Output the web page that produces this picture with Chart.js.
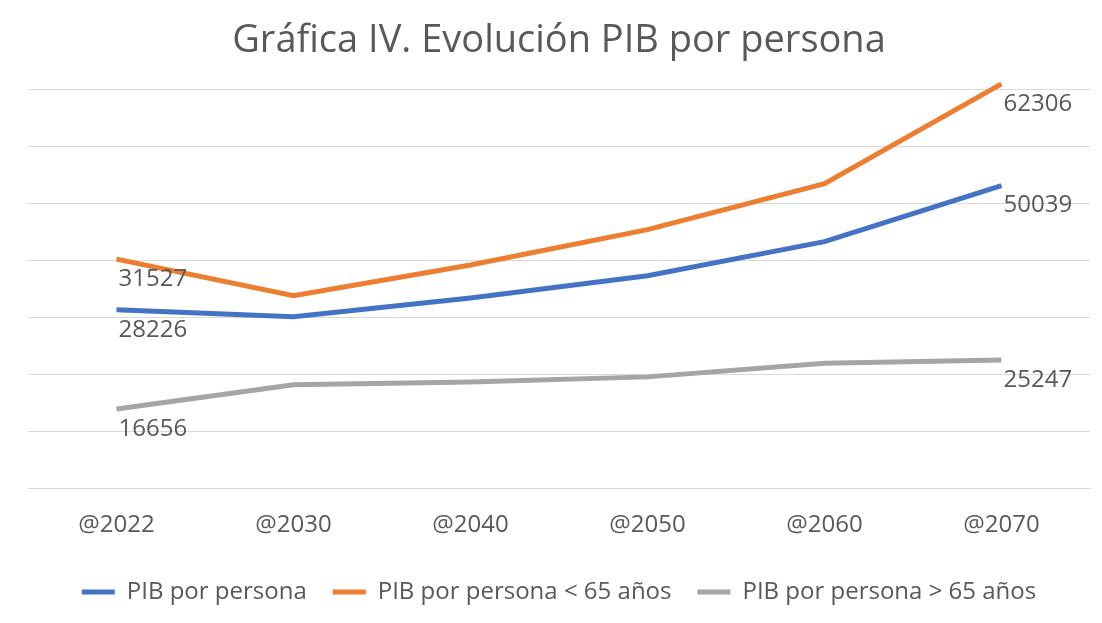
<!DOCTYPE html>
<html>
<head>
<meta charset="utf-8">
<script src="https://cdn.jsdelivr.net/npm/chart.js@4/dist/chart.umd.min.js"></script>
<style>
  html, body { margin: 0; padding: 0; background: #fff; }
  #wrap { width: 1102px; height: 623px; }
</style>
</head>
<body>
<div id="wrap"><canvas id="pibChart" width="1102" height="623"></canvas></div>
<script>
// Categories and series
const years = ['@2022', '@2030', '@2040', '@2050', '@2060', '@2070'];
const pibPersona = [28226, 27000, 30300, 34200, 40200, 50039];
const pibMenor65 = [31527, 25100, 30500, 36700, 44800, 62306];
const pibMayor65 = [16656, 20900, 21400, 22300, 24700, 25247];
const seriesNames = ['PIB por persona', 'PIB por persona < 65 años', 'PIB por persona > 65 años'];

const FONT = "'Open Sans', 'Noto Sans', sans-serif";

// print the value next to the first and last point of each line
const endLabels = {
    id: 'endLabels',
    afterDatasetsDraw(chart) {
        const ctx = chart.ctx;
        ctx.save();
        ctx.font = '24px ' + FONT;
        ctx.fillStyle = '#595959';
        ctx.textAlign = 'left';
        ctx.textBaseline = 'middle';
        chart.data.datasets.forEach((ds, i) => {
            const meta = chart.getDatasetMeta(i);
            [0, ds.data.length - 1].forEach(idx => {
                const pt = meta.data[idx];
                ctx.fillText(String(ds.data[idx]), pt.x + 2, pt.y + 20);
            });
        });
        ctx.restore();
    }
};

const ctx = document.getElementById('pibChart').getContext('2d');
new Chart(ctx, {
    type: 'line',
    data: {
        labels: years,
        datasets: [
            { label: seriesNames[0], data: pibPersona, borderColor: '#4472C4', yAxisID: 'yBlue' },
            { label: seriesNames[1], data: pibMenor65, borderColor: '#ED7D31', yAxisID: 'yOrange' },
            { label: seriesNames[2], data: pibMayor65, borderColor: '#A5A5A5', yAxisID: 'yGray' }
        ].map(d => Object.assign(d, {
            backgroundColor: d.borderColor,
            borderWidth: 5,
            pointRadius: 0,
            tension: 0,
            clip: false
        }))
    },
    options: {
        responsive: false,
        animation: false,
        layout: { padding: { top: 0, left: 28, right: 12, bottom: 9 } },
        plugins: {
            title: {
                display: true,
                text: 'Gráfica IV. Evolución PIB por persona',
                color: '#595959',
                font: { family: FONT, size: 38, weight: 'normal' },
                padding: { top: 18, bottom: 26 }
            },
            legend: {
                position: 'bottom',
                labels: {
                    color: '#595959',
                    font: { family: FONT, size: 24 },
                    usePointStyle: true,
                    pointStyle: 'line',
                    pointStyleWidth: 33,
                    padding: 26
                }
            },
            tooltip: { enabled: false }
        },
        scales: {
            x: {
                offset: true,
                grid: { display: false, drawTicks: false },
                border: { display: true, color: '#D9D9D9' },
                ticks: { color: '#595959', font: { family: FONT, size: 24 }, padding: 23 },
                afterFit: s => { s.height -= 9; }
            },
            y: {
                position: 'left',
                min: 0, max: 70000,
                ticks: { display: false, stepSize: 10000 },
                grid: { color: '#D9D9D9', drawTicks: false },
                border: { display: false }
            },
            yBlue: { display: false, min: -3100, max: 66900 },
            yOrange: { display: false, min: -8700, max: 61300 },
            yGray: { display: false, min: 2750, max: 72750 }
        }
    },
    plugins: [endLabels]
});
</script>
</body>
</html>
